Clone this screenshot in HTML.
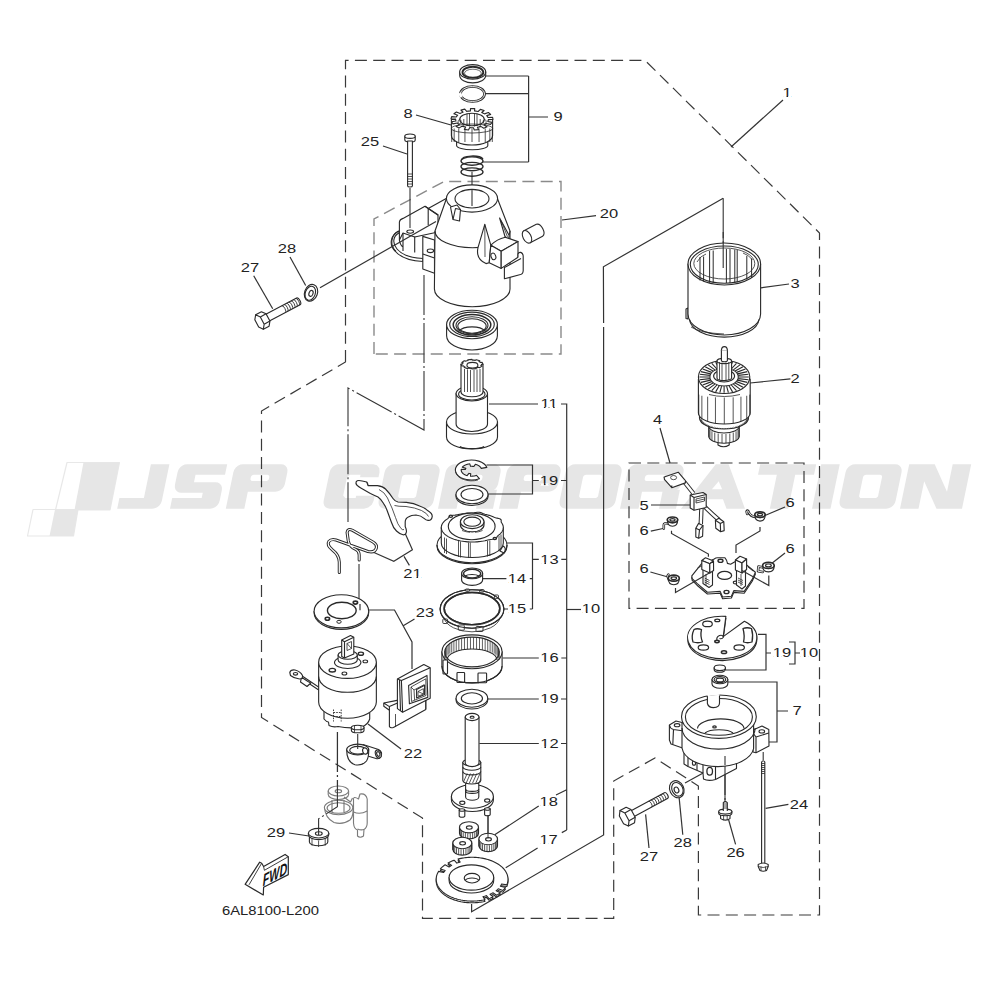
<!DOCTYPE html>
<html><head><meta charset="utf-8"><title>Starter motor parts</title>
<style>
html,body{margin:0;padding:0;background:#fff;}
body{width:1000px;height:1000px;overflow:hidden;}
svg{display:block;}
.t{font-family:"Liberation Sans",sans-serif;font-size:12.7px;fill:#222;text-anchor:middle;dominant-baseline:central;}
.ln{stroke:#333;stroke-width:1.2;fill:none;}
.dl{stroke:#3a3a3a;stroke-width:1.2;fill:none;stroke-dasharray:12 6.3;}
.dl2{stroke:#8a8a8a;stroke-width:1.4;fill:none;stroke-dasharray:12 6.3;}
.cl{stroke:#333;stroke-width:1.1;fill:none;stroke-dasharray:40 3 2 3;}
.p{stroke:#2a2a2a;stroke-width:1.12;fill:#fff;stroke-linejoin:round;}
.pn{stroke:#2a2a2a;stroke-width:1.12;fill:none;stroke-linejoin:round;}
.th{stroke:#2a2a2a;stroke-width:0.8;fill:none;}
.wm{fill:#e6e6e6;font-family:"Liberation Sans",sans-serif;font-weight:bold;font-style:italic;}
</style></head>
<body>
<svg width="1000" height="1000" viewBox="0 0 1000 1000">
<rect width="1000" height="1000" fill="#fff"/>

<!-- WATERMARK -->
<g id="wm">
  <path d="M67,462.5 L119.5,462.5 L110,510 L55.5,510 Z" fill="none" stroke="#e8e8e8" stroke-width="1.2" stroke-linejoin="round"/>
  <path d="M83.5,462.5 L119.5,462.5 L110,510 L74.5,510 Z" fill="#e6e6e6"/>
  <path d="M33,509.5 L78,509.5 L73.5,536 L27.5,536 Z" fill="none" stroke="#e8e8e8" stroke-width="1.2" stroke-linejoin="round"/>
  <path d="M55,509.5 L78,509.5 L73.5,536 L49.5,536 Z" fill="#e6e6e6"/>
<path d="M0.0,33.9 L24.5,33.9 L24.5,0.0 L43.0,0.0 L43.0,36.5 L42.6,39.0 L41.5,41.2 L39.7,43.0 L37.5,44.1 L35.0,44.5 L0.0,44.5 Z" fill="#e6e6e6" fill-rule="evenodd" transform="matrix(1 0 -0.207 1 126.41 464.2)"/>
<path d="M0.0,8.0 L0.4,5.5 L1.5,3.3 L3.3,1.5 L5.5,0.4 L8.0,0.0 L48.0,0.0 L48.0,10.6 L18.5,10.6 L18.5,18.0 L40.0,18.0 L42.5,18.4 L44.7,19.5 L46.5,21.3 L47.6,23.5 L48.0,26.0 L48.0,36.5 L47.6,39.0 L46.5,41.2 L44.7,43.0 L42.5,44.1 L40.0,44.5 L0.0,44.5 L0.0,33.9 L29.5,33.9 L29.5,28.6 L8.0,28.6 L5.5,28.2 L3.3,27.1 L1.5,25.3 L0.4,23.1 L0.0,20.6 Z" fill="#e6e6e6" fill-rule="evenodd" transform="matrix(1 0 -0.207 1 179.21 464.2)"/>
<path d="M0.0,44.5 L0.0,8.0 L0.4,5.5 L1.5,3.3 L3.3,1.5 L5.5,0.4 L8.0,0.0 L46.0,0.0 L48.5,0.4 L50.7,1.5 L52.5,3.3 L53.6,5.5 L54.0,8.0 L54.0,19.5 L53.6,22.0 L52.5,24.2 L50.7,26.0 L48.5,27.1 L46.0,27.5 L18.5,27.5 L18.5,44.5 Z M34.5,10.6 L35.3,10.7 L36.0,11.1 L36.5,11.6 L36.9,12.3 L37.0,13.1 L37.0,14.4 L36.9,15.2 L36.5,15.9 L36.0,16.4 L35.3,16.8 L34.5,16.9 L21.0,16.9 L20.2,16.8 L19.5,16.4 L19.0,15.9 L18.6,15.2 L18.5,14.4 L18.5,13.1 L18.6,12.3 L19.0,11.6 L19.5,11.1 L20.2,10.7 L21.0,10.6 Z" fill="#e6e6e6" fill-rule="evenodd" transform="matrix(1 0 -0.207 1 235.01 464.2)"/>
<path d="M0.0,8.0 L0.4,5.5 L1.5,3.3 L3.3,1.5 L5.5,0.4 L8.0,0.0 L42.0,0.0 L46.0,1.1 L48.9,4.0 L50.0,8.0 L50.0,13.0 L31.5,13.0 L31.5,10.6 L21.0,10.6 L18.5,13.1 L18.5,31.4 L21.0,33.9 L31.5,33.9 L31.5,31.5 L50.0,31.5 L50.0,36.5 L48.9,40.5 L46.0,43.4 L42.0,44.5 L8.0,44.5 L5.5,44.1 L3.3,43.0 L1.5,41.2 L0.4,39.0 L0.0,36.5 Z" fill="#e6e6e6" fill-rule="evenodd" transform="matrix(1 0 -0.207 1 331.21 464.2)"/>
<path d="M47.0,0.0 L49.5,0.4 L51.7,1.5 L53.5,3.3 L54.6,5.5 L55.0,8.0 L55.0,36.5 L54.6,39.0 L53.5,41.2 L51.7,43.0 L49.5,44.1 L47.0,44.5 L8.0,44.5 L5.5,44.1 L3.3,43.0 L1.5,41.2 L0.4,39.0 L0.0,36.5 L0.0,8.0 L0.4,5.5 L1.5,3.3 L3.3,1.5 L5.5,0.4 L8.0,0.0 Z M34.0,10.6 L34.8,10.7 L35.5,11.1 L36.0,11.6 L36.4,12.3 L36.5,13.1 L36.5,31.4 L36.4,32.2 L36.0,32.9 L35.5,33.4 L34.8,33.8 L34.0,33.9 L21.0,33.9 L20.2,33.8 L19.5,33.4 L19.0,32.9 L18.6,32.2 L18.5,31.4 L18.5,13.1 L18.6,12.3 L19.0,11.6 L19.5,11.1 L20.2,10.7 L21.0,10.6 Z" fill="#e6e6e6" fill-rule="evenodd" transform="matrix(1 0 -0.207 1 386.21 464.2)"/>
<path d="M0.0,44.5 L0.0,8.0 L0.4,5.5 L1.5,3.3 L3.3,1.5 L5.5,0.4 L8.0,0.0 L47.0,0.0 L49.5,0.4 L51.7,1.5 L53.5,3.3 L54.6,5.5 L55.0,8.0 L55.0,19.5 L54.6,22.0 L53.5,24.2 L51.7,26.0 L49.5,27.1 L47.0,27.5 L18.5,27.5 L18.5,44.5 Z M35.5,10.6 L36.3,10.7 L37.0,11.1 L37.5,11.6 L37.9,12.3 L38.0,13.1 L38.0,14.4 L37.9,15.2 L37.5,15.9 L37.0,16.4 L36.3,16.8 L35.5,16.9 L21.0,16.9 L20.2,16.8 L19.5,16.4 L19.0,15.9 L18.6,15.2 L18.5,14.4 L18.5,13.1 L18.6,12.3 L19.0,11.6 L19.5,11.1 L20.2,10.7 L21.0,10.6 Z" fill="#e6e6e6" fill-rule="evenodd" transform="matrix(1 0 -0.207 1 447.21 464.2)"/>
<path d="M38.0,25.5 L55.0,25.5 L55.0,44.5 L38.0,44.5 Z" fill="#e6e6e6" fill-rule="evenodd" transform="matrix(1 0 -0.207 1 447.21 464.2)"/>
<path d="M0.0,44.5 L0.0,8.0 L0.4,5.5 L1.5,3.3 L3.3,1.5 L5.5,0.4 L8.0,0.0 L46.0,0.0 L48.5,0.4 L50.7,1.5 L52.5,3.3 L53.6,5.5 L54.0,8.0 L54.0,19.5 L53.6,22.0 L52.5,24.2 L50.7,26.0 L48.5,27.1 L46.0,27.5 L18.5,27.5 L18.5,44.5 Z M34.5,10.6 L35.3,10.7 L36.0,11.1 L36.5,11.6 L36.9,12.3 L37.0,13.1 L37.0,14.4 L36.9,15.2 L36.5,15.9 L36.0,16.4 L35.3,16.8 L34.5,16.9 L21.0,16.9 L20.2,16.8 L19.5,16.4 L19.0,15.9 L18.6,15.2 L18.5,14.4 L18.5,13.1 L18.6,12.3 L19.0,11.6 L19.5,11.1 L20.2,10.7 L21.0,10.6 Z" fill="#e6e6e6" fill-rule="evenodd" transform="matrix(1 0 -0.207 1 508.21 464.2)"/>
<path d="M48.0,0.0 L50.5,0.4 L52.7,1.5 L54.5,3.3 L55.6,5.5 L56.0,8.0 L56.0,36.5 L55.6,39.0 L54.5,41.2 L52.7,43.0 L50.5,44.1 L48.0,44.5 L8.0,44.5 L5.5,44.1 L3.3,43.0 L1.5,41.2 L0.4,39.0 L0.0,36.5 L0.0,8.0 L0.4,5.5 L1.5,3.3 L3.3,1.5 L5.5,0.4 L8.0,0.0 Z M35.0,10.6 L35.8,10.7 L36.5,11.1 L37.0,11.6 L37.4,12.3 L37.5,13.1 L37.5,31.4 L37.4,32.2 L37.0,32.9 L36.5,33.4 L35.8,33.8 L35.0,33.9 L21.0,33.9 L20.2,33.8 L19.5,33.4 L19.0,32.9 L18.6,32.2 L18.5,31.4 L18.5,13.1 L18.6,12.3 L19.0,11.6 L19.5,11.1 L20.2,10.7 L21.0,10.6 Z" fill="#e6e6e6" fill-rule="evenodd" transform="matrix(1 0 -0.207 1 567.21 464.2)"/>
<path d="M0.0,44.5 L0.0,8.0 L0.4,5.5 L1.5,3.3 L3.3,1.5 L5.5,0.4 L8.0,0.0 L48.0,0.0 L50.5,0.4 L52.7,1.5 L54.5,3.3 L55.6,5.5 L56.0,8.0 L56.0,19.5 L55.6,22.0 L54.5,24.2 L52.7,26.0 L50.5,27.1 L48.0,27.5 L18.5,27.5 L18.5,44.5 Z M36.5,10.6 L37.3,10.7 L38.0,11.1 L38.5,11.6 L38.9,12.3 L39.0,13.1 L39.0,14.4 L38.9,15.2 L38.5,15.9 L38.0,16.4 L37.3,16.8 L36.5,16.9 L21.0,16.9 L20.2,16.8 L19.5,16.4 L19.0,15.9 L18.6,15.2 L18.5,14.4 L18.5,13.1 L18.6,12.3 L19.0,11.6 L19.5,11.1 L20.2,10.7 L21.0,10.6 Z" fill="#e6e6e6" fill-rule="evenodd" transform="matrix(1 0 -0.207 1 629.21 464.2)"/>
<path d="M39.0,25.5 L56.0,25.5 L56.0,44.5 L39.0,44.5 Z" fill="#e6e6e6" fill-rule="evenodd" transform="matrix(1 0 -0.207 1 629.21 464.2)"/>
<path d="M0.0,44.5 L25.6,0.0 L38.4,0.0 L64.0,44.5 L45.5,44.5 L40.0,35.0 L24.0,35.0 L18.5,44.5 Z M32.0,17.0 L37.1,25.0 L26.9,25.0 Z" fill="#e6e6e6" fill-rule="evenodd" transform="matrix(1 0 -0.207 1 690.21 464.2)"/>
<path d="M0.0,0.0 L56.0,0.0 L56.0,10.6 L37.2,10.6 L37.2,44.5 L18.8,44.5 L18.8,10.6 L0.0,10.6 Z" fill="#e6e6e6" fill-rule="evenodd" transform="matrix(1 0 -0.207 1 760.21 464.2)"/>
<path d="M0.0,0.0 L18.5,0.0 L18.5,44.5 L0.0,44.5 Z" fill="#e6e6e6" fill-rule="evenodd" transform="matrix(1 0 -0.207 1 821.21 464.2)"/>
<path d="M48.0,0.0 L50.5,0.4 L52.7,1.5 L54.5,3.3 L55.6,5.5 L56.0,8.0 L56.0,36.5 L55.6,39.0 L54.5,41.2 L52.7,43.0 L50.5,44.1 L48.0,44.5 L8.0,44.5 L5.5,44.1 L3.3,43.0 L1.5,41.2 L0.4,39.0 L0.0,36.5 L0.0,8.0 L0.4,5.5 L1.5,3.3 L3.3,1.5 L5.5,0.4 L8.0,0.0 Z M35.0,10.6 L35.8,10.7 L36.5,11.1 L37.0,11.6 L37.4,12.3 L37.5,13.1 L37.5,31.4 L37.4,32.2 L37.0,32.9 L36.5,33.4 L35.8,33.8 L35.0,33.9 L21.0,33.9 L20.2,33.8 L19.5,33.4 L19.0,32.9 L18.6,32.2 L18.5,31.4 L18.5,13.1 L18.6,12.3 L19.0,11.6 L19.5,11.1 L20.2,10.7 L21.0,10.6 Z" fill="#e6e6e6" fill-rule="evenodd" transform="matrix(1 0 -0.207 1 847.21 464.2)"/>
<path d="M0.0,44.5 L0.0,0.0 L25.5,0.0 L43.5,27.5 L43.5,0.0 L62.0,0.0 L62.0,44.5 L36.5,44.5 L18.5,17.0 L18.5,44.5 Z" fill="#e6e6e6" fill-rule="evenodd" transform="matrix(1 0 -0.207 1 909.21 464.2)"/>
</g>

<!-- DASHED BOXES -->
<g id="boxes">
  <path class="dl" d="M345.5,362 L345.5,60.3 L645,60.3 L819.5,233 L819.5,915 L698.4,915 L698.4,786 L655,758 L613.7,781 L613.7,918.4 L422.5,918.4 L422.5,818 L261.5,717.5 L261.5,411 Z"/>
  <path class="dl2" d="M374,354 L374,219 L444,181.5 L561,181.5 L561,354 Z"/>
  <rect class="dl" x="629" y="463" width="175" height="145.4"/>
</g>

<!-- LEADERS -->
<g id="leaders" class="ln">
  <path d="M783,100 L731,147"/>
  <path d="M486,76 H528.6 M484,93.6 H528.6 M483,162 H528.6 M528.6,76 V162 M528.6,117 H548"/>
  <path d="M416,115 L451,125"/>
  <path d="M383,146 L407,154"/>
  <path d="M562,220 L596,215.6"/>
  <path d="M290,257 L305.7,285.5"/>
  <path d="M253.7,275.7 L272.7,308.7"/>

  <path d="M489,404 H538 M561,404 H566.7 V830"/>
  <path d="M486.6,465 H532.5 V494 H487.5 M532.5,480.5 H538.8 M561,480.5 H566.7"/>
  <path d="M504.6,543 H532.5 V609 M532.5,559.4 H538.8 M561.3,559.4 H566.7"/>
  <path d="M482,578.6 H506.4 M529.8,578.6 H532.5"/>
  <path d="M503.7,609 H508 M529.8,609 H532.5"/>
  <path d="M502.8,658 H538.8 M561.3,658 H566.7"/>
  <path d="M566.7,609.5 H581"/>
  <path d="M488,699 H538.8 M561,699 H566.7"/>
  <path d="M479.4,743.5 H538.8 M561,743.5 H566.7"/>
  <path d="M556,795 L566.7,789.7 M538.7,806 L494.7,834.8"/>
  <path d="M561.8,832.6 L566.7,830 M537.6,848 L505.7,867.8"/>
  <path d="M603.6,323 L603.4,266.8 L723.2,198.2"/>
  <path d="M603.6,327 L603.6,835 L471.6,911.8 L471.6,904"/>
  <path d="M761,287.8 L789,284"/>
  <path d="M750,383 L790.4,378.8"/>
  <path d="M660,428 L670,463"/>
  <path d="M651,505 L690,505"/>
  <path d="M785,507 L765,515.5"/>
  <path d="M650.8,531.2 L663,528.5"/>
  <path d="M785,553 L771,564"/>
  <path d="M650.4,572 L668,577"/>
  <path d="M758,634.4 H766 V670 H726 M766,653 H771 M789,642 H795 V664 H789 M795,653 H800"/>
  <path d="M728,682 H777 V742 H769 M777,711 H788"/>
  <path d="M765.6,808.4 L788.4,804.3"/>
  <path d="M728.4,819 L735.6,844.4"/>
  <path d="M679,796.4 L682.8,834.8"/>
  <path d="M645.6,814.4 L649,848"/>
  <path d="M685,783 L706.8,771"/>
  <path d="M289,833 L309,836"/>
  <path d="M368,724 L401,749"/>
  <path d="M369,610 H394.5 L412,642 V669 M414.5,619 L402.8,626"/>
  <path d="M405.2,533.6 L412.4,549.8 L393.8,561.2 L373.4,552.2 M404,556.4 L409.4,565.4"/>
</g>

<!-- CENTER LINES (dash-dot) -->
<g id="clines" class="cl">
  <path d="M723.2,198.2 V267"/>

  <path d="M424,275 V430 L348,388 V522"/>
  <path d="M359,564 V609"/>
  <path d="M337.5,732 V790"/>
  <path d="M725,755 V802"/>
  <path d="M472,172 V205"/>
</g>



<!-- PARTS -->
<g id="parts">
<path class="p" d="M459.7,71.9 L459.7,75.6 A13,7.3 0 0 0 485.7,75.6 L485.7,71.9 Z" />
<ellipse class="p" cx="472.7" cy="71.9" rx="13" ry="7.3" />
<ellipse class="pn" cx="472.9" cy="72.3" rx="10.4" ry="5.6" style="stroke-width:1.9"/>
<ellipse class="pn" cx="472.9" cy="73.2" rx="8.4" ry="4" style="stroke-width:0.7"/>
<ellipse class="pn" cx="472.5" cy="94" rx="12.1" ry="7.5" style="stroke-width:2.6"/>
<ellipse class="pn" cx="472.5" cy="94" rx="12.1" ry="7.5" style="stroke:#fff;stroke-width:0.9"/>
<path class="pn" d="M459.6,93 L461.5,97" style="stroke:#fff;stroke-width:3"/>
<path class="p" d="M456.6,139 L456.6,145.5 A15.6,4.3 0 0 0 487.8,145.5 L487.8,139 Z" />
<ellipse class="p" cx="472.2" cy="139" rx="15.6" ry="4.3" />
<path class="p" d="M451.4,119.5 L451.4,135.5 A20.6,9.5 0 0 0 492.6,135.5 L492.6,119.5 Z" />
<path class="p" d="M488.2,120.56 L487.8,121.51 L492.12,122.39 L490.5,124.41 L486.24,123.47 L485.2,124.29 L483.99,125.04 L487.03,126.85 L483.76,128.25 L480.84,126.39 L479.19,126.87 L477.43,127.25 L478.49,129.57 L474.33,130.03 L473.42,127.69 L471.52,127.72 L469.63,127.64 L468.46,129.95 L464.36,129.36 L465.67,127.07 L463.97,126.64 L462.37,126.11 L459.25,127.88 L456.15,126.38 L459.38,124.67 L458.25,123.88 L457.32,123.03 L452.95,123.85 L451.56,121.78 L455.97,121.04 L455.69,120.07 L455.62,119.1 L451.02,118.78 L451.66,116.61 L456.24,117.01 L456.86,116.08 L457.69,115.2 L453.9,113.82 L456.42,112.06 L460.12,113.5 L461.5,112.83 L463.03,112.25 L460.92,110.12 L464.75,109.16 L466.72,111.33 L468.55,111.07 L470.42,110.92 L470.48,108.53 L474.74,108.59 L474.53,110.98 L476.38,111.18 L478.18,111.5 L480.39,109.4 L484.1,110.47 L481.76,112.53 L483.21,113.16 L484.52,113.87 L488.38,112.54 L490.69,114.38 L486.75,115.64 L487.48,116.54 L487.99,117.48 L492.61,117.23 L493,119.41 L488.37,119.59 Z" />
<ellipse class="p" cx="472" cy="119.5" rx="12.3" ry="6.3" />
<path class="th" d="M463.8,119 V127 M480.2,119 V127 M467,113.5 V126 M469.5,113 V126.5 M474.5,113 V126.5 M477,113.5 V126" />
<path class="th" d="M459.6,119.5 a1.5,2.2 0 1 0 0.1,0 M484.6,119.5 a1.5,2.2 0 1 0 0.1,0" />
<path class="th" d="M451.71,128.5 V142 M454.16,128.5 V142 M458.76,128.5 V142 M464.95,128.5 V142 M472,128.5 V142 M479.05,128.5 V142 M485.24,128.5 V142 M489.84,128.5 V142 M492.29,128.5 V142" />
<ellipse class="th" cx="472" cy="128.5" rx="20.6" ry="4.5" style="fill:none"/>
<path class="pn" d="M461.5,160 A11,4.2 0 0 1 483,159" style="stroke-width:1.35"/>
<ellipse class="pn" cx="472" cy="161" rx="11" ry="4.2" style="stroke-width:1.35"/>
<ellipse class="pn" cx="472" cy="166.5" rx="11" ry="4.2" style="stroke-width:1.35"/>
<ellipse class="pn" cx="472" cy="172" rx="11" ry="4.2" style="stroke-width:1.35"/>
<path class="p" d="M404.8,136.2 L404.8,140 A5.2,2.2 0 0 0 415.2,140 L415.2,136.2 Z" />
<ellipse class="p" cx="410" cy="136.2" rx="5.2" ry="2.2" />
<path class="p" d="M407.6,141 L407.6,186 A2.4,1 0 0 0 412.4,186 L412.4,141 Z" />
<path class="th" d="M407.6,174 H412.4 M407.6,176.5 H412.4 M407.6,179 H412.4 M407.6,181.5 H412.4 M407.6,184 H412.4" />
<path class="p" d="M399,231 C390,235 389,245 395,251 C401,258 412,261 423,261.5 L423,258.5 C412,258 402,255 397,249 C392,243 393,236 399,233 Z" />
<path class="pn" d="M398.5,231 C390,236 390,246 396,251.5" />
<path class="p" d="M399.4,240 L399.4,222 Q399.8,219.5 403,218.4 L425,206.3 L438,214.8 L438,232 L414.7,237 L403,233 Z" />
<path class="pn" d="M425,206.3 L428.2,208.5 L428.2,225 M428.2,208.5 L438.1,215.3" />
<path class="pn" d="M428.2,208.5 L446.2,198.6" />
<path class="pn" d="M403,233 V251 M414.7,236.5 V252.6 M399.4,240 Q400,245 403,247" />
<ellipse class="p" cx="410.2" cy="231.6" rx="3.4" ry="1.6" />
<path class="p" d="M422.8,236.4 L434.5,240 L434.5,273.3 L422.8,269 Z" />
<ellipse class="p" cx="430.4" cy="250.8" rx="3.2" ry="1.8" />
<path class="pn" d="M422.8,254 L434.5,258" />
<path class="p" d="M446.3,199 L435,231 L434.4,289 A37.8,17.7 0 0 0 510,289 L510,231 L497.6,199 Z" />
<path class="pn" d="M435,231 A37,16.5 0 0 0 510,231" />
<ellipse class="p" cx="472" cy="198.5" rx="25.6" ry="13.6" />
<ellipse class="p" cx="472" cy="198.7" rx="17" ry="9.3" />
<path class="p" d="M450.5,207 L453,219.5 L459.5,221 L460.5,209.5 L457,205 Z" />
<path class="pn" d="M453,219.5 L455.5,208.5 L460.5,209.5" />
<path class="p" d="M499.6,218 L509.2,235.6 L508.6,239.5 L505,236.5 Z" />
<path class="th" d="M501,220.5 L507.5,236.8" />
<path class="p" d="M484.8,224.4 L478,247.6 Q475.5,259 486,263.6 L489.2,262.8 L490.8,245.2 Z" />
<path class="th" d="M484.8,224.4 L485,257" />
<path class="p" d="M490.8,245.2 Q497,239 505.2,237.2 L518,241.6 L501.2,251.2 Z" />
<path class="p" d="M490.8,245.2 L501.2,251.2 L501.2,268.4 L489.2,262.8 Z" />
<path class="p" d="M501.2,251.2 L518,241.6 L518,257.2 L501.2,268.4 Z" />
<ellipse class="p" cx="493.4" cy="256.4" rx="2.3" ry="3.4" transform="rotate(-20 493.4 256.4)" />
<path class="p" d="M518,257.2 L518,254 Q518.5,252.2 520.6,252.4 Q523.2,253.2 523.2,256.6 L523.2,270.8 Q523,274.4 519.6,274.8 L504.4,278.8 L504.4,267.6 L521,258.6" />
<path class="p" d="M523.9,230.8 L536.3,224.3 A6.8,4 62.4 0 1 542.6,236.3 L530.2,242.8 Z" />
<ellipse class="p" cx="527" cy="236.8" rx="6.8" ry="4" transform="rotate(62.4 527 236.8)" />
<path class="ln" d="M320,287.7 L436,221.6" />
<path class="cl" d="M410,188 V230" />
<path class="cl" d="M472,190 V206" />
<path class="p" d="M446.6,324.5 L446.6,335.7 A25.4,14.3 0 0 0 497.4,335.7 L497.4,324.5 Z" />
<ellipse class="p" cx="472" cy="324.5" rx="25.4" ry="14.3" />
<ellipse class="pn" cx="472" cy="324.3" rx="22.3" ry="12.2" />
<ellipse class="pn" cx="472" cy="324.8" rx="18.8" ry="10.2" style="stroke-width:1.5"/>
<ellipse class="p" cx="472" cy="325.3" rx="16" ry="8.6" />
<ellipse class="p" cx="472" cy="326" rx="14.2" ry="7.2" />
<path class="pn" d="M459,331 A14,6.5 0 0 1 485,331" />
<path class="p" d="M446.5,422 L446.5,437 A25.5,12 0 0 0 497.5,437 L497.5,422 Z" />
<ellipse class="p" cx="472" cy="422" rx="25.5" ry="12" />
<path class="pn" d="M460,446.5 A13,3.5 0 0 0 484,446.5" />
<path class="p" d="M456.1,393.5 L456.1,424 A15.7,7.5 0 0 0 487.5,424 L487.5,393.5 Z" />
<ellipse class="p" cx="471.8" cy="393.5" rx="15.7" ry="7.5" />
<ellipse class="pn" cx="471.8" cy="394.2" rx="13.2" ry="5.8" />
<path class="p" d="M461,364.2 L461,392 A11,4.8 0 0 0 483,392 L483,364.2 Z" />
<path class="p" d="M481.27,365.02 L480.86,365.64 L482.15,366.05 L479.75,367.61 L478.4,367.24 L477.23,367.64 L475.93,367.96 L476.17,368.64 L471.96,369 L471.59,368.32 L470.12,368.25 L468.69,368.07 L467.75,368.63 L464.19,367.58 L465.03,366.99 L464.12,366.48 L463.39,365.91 L461.82,366.02 L461,364.18 L462.55,364.02 L462.73,363.38 L463.14,362.76 L461.85,362.35 L464.25,360.79 L465.6,361.16 L466.77,360.76 L468.07,360.44 L467.83,359.76 L472.04,359.4 L472.41,360.08 L473.88,360.15 L475.31,360.33 L476.25,359.77 L479.81,360.82 L478.97,361.41 L479.88,361.92 L480.61,362.49 L482.18,362.38 L483,364.22 L481.45,364.38 Z" />
<ellipse class="p" cx="472.4" cy="365.2" rx="5.5" ry="2.8" />
<path class="th" d="M464.5,369 V392 M467.5,369.5 V392 M470.5,369.8 V392 M474,369.8 V392 M477,369.5 V392 M480,369 V392" />
<path class="p" d="M486.85,467.41 A16,10 0 1 0 479.4,478.66 L476.5,475.37 L476.35,475.42 L476.19,475.47 L476.03,475.52 L475.87,475.57 L475.71,475.62 L475.55,475.66 L475.39,475.71 L475.22,475.75 L475.06,475.79 L474.89,475.83 L474.72,475.86 L474.55,475.9 L474.38,475.93 L474.21,475.96 L474.04,475.99 L473.87,476.02 L473.69,476.04 L473.52,476.06 L473.35,476.09 L473.17,476.11 L473,476.12 L472.82,476.14 L472.64,476.15 L472.47,476.17 L472.29,476.18 L472.11,476.18 L471.93,476.19 L471.76,476.2 L471.58,476.2 L471.4,476.2 L471.22,476.2 L471.04,476.2 L470.87,476.19 L470.69,476.18 L470.51,476.18 L470.76,473.7 L470.65,473.69 L470.55,473.68 L470.44,473.67 L470.34,473.66 L470.23,473.65 L470.13,473.64 L470.02,473.62 L469.92,473.61 L469.82,473.59 L469.71,473.58 L469.61,473.56 L469.51,473.54 L469.41,473.52 L469.31,473.5 L469.21,473.47 L469.11,473.45 L469.01,473.42 L468.91,473.4 L467.09,475.62 L466.93,475.57 L466.77,475.52 L466.61,475.47 L466.45,475.42 L466.3,475.37 L466.15,475.31 L465.99,475.26 L465.84,475.2 L465.7,475.14 L465.55,475.08 L465.4,475.02 L465.26,474.95 L465.12,474.89 L464.98,474.82 L464.84,474.75 L464.71,474.68 L464.57,474.61 L464.44,474.53 L464.31,474.46 L464.19,474.38 L464.06,474.31 L463.94,474.23 L463.82,474.15 L463.7,474.07 L463.59,473.99 L463.47,473.9 L463.36,473.82 L463.25,473.73 L463.15,473.64 L463.04,473.56 L462.94,473.47 L462.85,473.38 L462.75,473.29 L462.66,473.19 L462.57,473.1 L462.48,473.01 L462.39,472.91 L462.31,472.81 L462.23,472.72 L462.16,472.62 L462.08,472.52 L462.01,472.42 L461.94,472.32 L461.88,472.22 L461.82,472.12 L461.76,472.02 L461.7,471.92 L461.65,471.81 L461.6,471.71 L461.55,471.6 L461.5,471.5 L461.46,471.39 L461.42,471.29 L461.39,471.18 L461.35,471.08 L461.33,470.97 L461.3,470.86 L461.28,470.76 L461.26,470.65 L461.24,470.54 L461.22,470.43 L461.21,470.32 L461.21,470.22 L461.2,470.11 L461.2,470 L461.2,469.89 L461.21,469.78 L461.21,469.68 L461.22,469.57 L461.24,469.46 L461.26,469.35 L461.28,469.24 L465.34,469.48 L465.36,469.42 L465.37,469.35 L465.39,469.29 L465.41,469.23 L465.44,469.16 L465.46,469.1 L465.49,469.04 L465.52,468.97 L465.55,468.91 L465.58,468.85 L465.61,468.79 L465.65,468.73 L465.69,468.67 L465.73,468.61 L465.77,468.55 L465.81,468.49 L465.85,468.43 L465.9,468.37 L462.31,467.19 L462.39,467.09 L462.48,466.99 L462.57,466.9 L462.66,466.81 L462.75,466.71 L462.85,466.62 L462.94,466.53 L463.04,466.44 L463.15,466.36 L463.25,466.27 L463.36,466.18 L463.47,466.1 L463.59,466.01 L463.7,465.93 L463.82,465.85 L463.94,465.77 L464.06,465.69 L464.19,465.62 L464.31,465.54 L464.44,465.47 L464.57,465.39 L464.71,465.32 L464.84,465.25 L464.98,465.18 L465.12,465.11 L465.26,465.05 L465.4,464.98 L465.55,464.92 L465.7,464.86 L465.84,464.8 L465.99,464.74 L466.15,464.69 L466.3,464.63 L466.45,464.58 L466.61,464.53 L466.77,464.48 L466.93,464.43 L467.09,464.38 L467.25,464.34 L467.41,464.29 L467.58,464.25 L467.74,464.21 L467.91,464.17 L468.08,464.14 L468.25,464.1 L468.42,464.07 L468.59,464.04 L468.76,464.01 L468.93,463.98 L469.11,463.96 L469.28,463.94 L469.45,463.91 L469.63,463.89 L469.8,463.88 L470.55,466.32 L470.65,466.31 L470.76,466.3 L470.87,466.29 L470.97,466.29 L471.08,466.29 L471.19,466.28 L471.29,466.28 L471.4,466.28 L471.51,466.28 L471.61,466.28 L471.72,466.29 L471.83,466.29 L471.93,466.29 L472.04,466.3 L472.15,466.31 L472.25,466.32 L472.36,466.33 L472.46,466.34 L472.57,466.35 L472.67,466.36 L472.78,466.38 L472.88,466.39 L472.98,466.41 L473.09,466.42 L473.19,466.44 L473.29,466.46 L473.39,466.48 L473.49,466.5 L473.59,466.53 L473.69,466.55 L475.39,464.29 L475.55,464.34 L475.71,464.38 L475.87,464.43 L476.03,464.48 L476.19,464.53 L476.35,464.58 L476.5,464.63 L476.65,464.69 L476.81,464.74 L476.96,464.8 L477.1,464.86 L477.25,464.92 L477.4,464.98 L477.54,465.05 L477.68,465.11 L477.82,465.18 L477.96,465.25 L478.09,465.32 L478.23,465.39 L478.36,465.47 L478.49,465.54 L478.61,465.62 L478.74,465.69 L478.86,465.77 L478.98,465.85 L479.1,465.93 L479.21,466.01 L479.33,466.1 L479.44,466.18 L479.55,466.27 L479.65,466.36 L479.76,466.44 L479.86,466.53 L479.95,466.62 L480.05,466.71 L480.14,466.81 L480.23,466.9 L480.32,466.99 L480.41,467.09 L480.49,467.19 L480.57,467.28 L480.64,467.38 L480.72,467.48 L480.79,467.58 L480.86,467.68 L480.92,467.78 L480.98,467.88 L481.04,467.98 L481.1,468.08 L481.15,468.19 L481.2,468.29 L481.25,468.4 Z" />
<path class="pn" d="M455.6,472 A16,10 0 0 0 478,480" style="stroke-width:0.8"/>
<path class="p" d="M456,494.5 L456,496.3 A16,9.2 0 0 0 488,496.3 L488,494.5 Z" />
<ellipse class="p" cx="472" cy="494.5" rx="16" ry="9.2" />
<ellipse class="p" cx="472" cy="494.5" rx="11" ry="6" />
<path class="p" d="M437,545 A35,17.8 0 0 1 507,545 L507,546 A35,17.8 0 0 1 437,546 Z" />
<path class="pn" d="M437,545 A35,17.8 0 0 0 507,545" />
<path class="p" d="M441.3,527.5 L441.3,543 A31,14.5 0 0 0 503.3,543 L503.3,527.5 Z" />
<path class="p" d="M503.3,527.5 L503.26,528.26 L503.13,529.02 L502.92,529.77 L502.62,530.51 L502.24,531.25 L501.78,531.98 L501.24,532.7 L500.62,533.4 L499.92,534.08 L499.15,534.75 L498.3,535.4 L497.51,536.07 L497.06,536.88 L496.63,537.75 L495.84,538.51 L494.49,539.03 L492.73,539.3 L490.86,539.45 L489.21,539.68 L487.8,540.06 L486.37,540.42 L484.91,540.75 L483.41,541.04 L481.88,541.29 L480.32,541.51 L478.75,541.68 L477.15,541.82 L475.54,541.92 L473.92,541.98 L472.3,542 L470.68,541.98 L469.06,541.92 L467.45,541.82 L465.85,541.68 L464.28,541.51 L462.72,541.29 L461.19,541.04 L459.69,540.75 L458.23,540.42 L456.8,540.06 L455.42,539.66 L454.08,539.23 L452.79,538.77 L451.56,538.28 L450.38,537.75 L449.26,537.2 L448.21,536.63 L447.22,536.02 L446.3,535.4 L445.45,534.75 L444.68,534.08 L443.98,533.4 L443.36,532.7 L442.82,531.98 L442.36,531.25 L441.98,530.51 L441.68,529.77 L441.47,529.02 L441.34,528.26 L441.3,527.5 L441.34,526.74 L441.47,525.98 L441.68,525.23 L441.98,524.49 L442.36,523.75 L442.82,523.02 L443.36,522.3 L443.98,521.6 L444.68,520.92 L445.45,520.25 L446.3,519.6 L447.22,518.98 L448.09,518.33 L448.62,517.53 L449.15,516.67 L450.03,515.93 L451.43,515.44 L453.22,515.22 L455.1,515.11 L456.78,514.93 L458.23,514.58 L459.69,514.25 L461.19,513.96 L462.72,513.71 L464.28,513.49 L465.85,513.32 L467.45,513.18 L469.06,513.08 L470.68,513.02 L472.3,513 L473.94,512.86 L475.66,512.54 L477.46,512.26 L479.23,512.25 L480.84,512.6 L482.24,513.19 L483.53,513.81 L484.91,514.25 L486.37,514.58 L487.8,514.94 L489.18,515.34 L490.52,515.77 L491.81,516.23 L493.04,516.72 L494.22,517.25 L495.45,517.75 L497.06,518.12 L498.79,518.5 L500.22,519.02 L501.03,519.74 L501.23,520.61 L501.15,521.49 L501.28,522.3 L501.78,523.02 L502.24,523.75 L502.62,524.49 L502.92,525.23 L503.13,525.98 L503.26,526.74 Z" />
<ellipse class="p" cx="471.7" cy="526.4" rx="23.4" ry="13.3" />
<ellipse class="p" cx="450.8" cy="516.2" rx="1.7" ry="1.1" style="stroke-width:1.3"/>
<ellipse class="p" cx="494.8" cy="538.4" rx="1.7" ry="1.1" style="stroke-width:1.3"/>
<path class="p" d="M460.4,521.7 L460.4,525 A11.8,6.9 0 0 0 484,525 L484,521.7 Z" />
<ellipse class="p" cx="472.2" cy="521.7" rx="11.8" ry="6.9" />
<ellipse class="p" cx="472.2" cy="521.7" rx="8.4" ry="4.6" />
<path class="th" d="M462,530.5 Q466,532 470,532.3 M475,532.3 Q479,532 482.5,530.5" />
<path class="th" d="M444.5,537.5 V553 M446.5,538.5 V554 M458.5,541 V557 M460.5,541.5 V557.5 M468.5,542.5 V558 M470.3,542.5 V558 M487.5,541 V556.5 M489.8,540.5 V556 M499,536 V551 M501,534.5 V549.5" />
<path class="p" d="M503,546 Q507,548 504,553 L500,551 Z" />
<path class="p" d="M461.6,573.4 L461.6,580 A10.5,5.4 0 0 0 482.6,580 L482.6,573.4 Z" />
<ellipse class="p" cx="472.1" cy="573.4" rx="10.5" ry="5.4" />
<ellipse class="pn" cx="472.1" cy="573.6" rx="8.6" ry="4.3" style="stroke-width:1.5"/>
<path class="pn" d="M465,576 A8,3 0 0 1 479,576" />
<ellipse class="p" cx="472" cy="609" rx="31.9" ry="19.2" style="stroke-width:1.1"/>
<ellipse class="pn" cx="472" cy="608.6" rx="28.4" ry="16.6" style="stroke-width:0.9"/>
<ellipse class="pn" cx="472" cy="608.6" rx="27.6" ry="15.9" style="stroke-width:1.2"/>
<rect class="p" x="458.3" y="625" width="6" height="5.2" rx="0.8" style="stroke-width:0.9"/>
<rect class="p" x="476" y="626.5" width="7" height="5" rx="0.8" style="stroke-width:0.9"/>
<rect class="p" x="442.8" y="619" width="4.8" height="4.5" rx="0.8" style="stroke-width:0.9"/>
<rect class="p" x="465.5" y="589" width="4" height="2.4" rx="0.8" style="stroke-width:0.9"/>
<rect class="p" x="479.5" y="589.5" width="4.5" height="2.6" rx="0.8" style="stroke-width:0.9"/>
<rect class="p" x="494.5" y="595" width="4" height="3.4" rx="0.8" style="stroke-width:0.9"/>
<ellipse class="pn" cx="472" cy="609" rx="31.9" ry="19.2" style="stroke-width:1.1"/>
<ellipse class="pn" cx="472" cy="608.6" rx="27.6" ry="15.9" style="stroke-width:1.2"/>
<path class="th" d="M444,618 A28.4,16.6 0 0 0 500,618" />
<path class="p" d="M441.9,651.8 L441.9,666 A30.1,16.9 0 0 0 502.1,666 L502.1,651.8 Z" />
<ellipse class="p" cx="472" cy="651.8" rx="30.1" ry="16.9" />
<ellipse class="p" cx="472" cy="652" rx="27.2" ry="14.9" />
<path class="pn" d="M447,660 A25,11 0 0 1 497,660" />
<path class="th" d="M444.84,651.16 L444.84,659.38 M445.18,649.5 L445.18,658.16 M445.86,647.88 L445.86,656.95 M446.87,646.3 L446.87,655.79 M448.19,644.79 L448.19,654.68 M449.82,643.38 L449.82,653.63 M451.72,642.07 L451.72,652.67 M453.88,640.89 L453.88,651.8 M456.26,639.85 L456.26,651.03 M458.84,638.96 L458.84,650.37 M461.59,638.23 L461.59,649.84 M464.47,637.68 L464.47,649.43 M467.44,637.31 L467.44,649.16 M470.47,637.12 L470.47,649.02 M473.53,637.12 L473.53,649.02 M476.56,637.31 L476.56,649.16 M479.53,637.68 L479.53,649.43 M482.41,638.23 L482.41,649.84 M485.16,638.96 L485.16,650.37 M487.74,639.85 L487.74,651.03 M490.12,640.89 L490.12,651.8 M492.28,642.07 L492.28,652.67 M494.18,643.38 L494.18,653.63 M495.81,644.79 L495.81,654.68 M497.13,646.3 L497.13,655.79 M498.14,647.88 L498.14,656.95 M498.82,649.5 L498.82,658.16 M499.16,651.16 L499.16,659.38" style="stroke-width:0.75"/>
<rect class="p" x="457" y="672.5" width="7.6" height="10" rx="0.8"/>
<rect class="p" x="478" y="673" width="8.6" height="9.8" rx="0.8"/>
<rect class="p" x="443" y="660" width="4.5" height="14" rx="0.8"/>
<path class="pn" d="M441.9,666 A30.1,16.9 0 0 0 502.1,666" />
<path class="p" d="M456.1,698.2 L456.1,700 A15.8,9 0 0 0 487.7,700 L487.7,698.2 Z" />
<ellipse class="p" cx="471.9" cy="698.2" rx="15.8" ry="9" />
<ellipse class="p" cx="471.9" cy="698.4" rx="10.6" ry="5.6" />
<path class="p" d="M451.4,796.5 L451.4,799.8 A21,11.7 0 0 0 493.4,799.8 L493.4,796.5 Z" />
<ellipse class="p" cx="472.4" cy="796.5" rx="21" ry="11.7" />
<ellipse class="p" cx="462.3" cy="802.8" rx="2.6" ry="1.7" />
<ellipse class="p" cx="487.2" cy="800.6" rx="2.6" ry="1.7" />
<path class="p" d="M459.2,810 L459.2,816 A2.8,1.2 0 0 0 464.8,816 L464.8,810 Z" />
<ellipse class="p" cx="462" cy="810" rx="2.8" ry="1.2" />
<path class="p" d="M484.6,809 L484.6,814.5 A2.8,1.2 0 0 0 490.2,814.5 L490.2,809 Z" />
<ellipse class="p" cx="487.4" cy="809" rx="2.8" ry="1.2" />
<path class="p" d="M465.6,783.5 L465.6,797 A6.6,3.2 0 0 0 478.8,797 L478.8,783.5 Z" />
<path class="pn" d="M465.6,789 A6.6,2.4 0 0 0 478.8,789 M465.6,791 A6.6,2.4 0 0 0 478.8,791" />
<path class="p" d="M462.8,762.5 L462.8,780.5 A9,3.5 0 0 0 480.8,780.5 L480.8,762.5 Z" />
<ellipse class="p" cx="471.8" cy="762.5" rx="9" ry="3.5" />
<path class="pn" d="M462.8,767 A9,3.3 0 0 0 480.8,767 M462.8,771.6 A9,3.3 0 0 0 480.8,771.6" />
<path class="th" d="M463,783 L467.2,773.5 M466.2,783 L470.4,773.5 M469.4,783 L473.6,773.5 M472.6,783 L476.8,773.5 M475.8,783 L480,773.5 M479,783 L483.2,773.5 M482.2,783 L486.4,773.5" clip-path="url(#cg12)"/>
<clipPath id="cg12"><path d="M462.8,772 L480.8,772 L480.8,780.5 A9,3.3 0 0 1 462.8,780.5 Z"/></clipPath>
<path class="p" d="M465.2,717 L465.2,763 A6.9,3.6 0 0 0 479,763 L479,717 Z" />
<ellipse class="p" cx="472.1" cy="717" rx="6.9" ry="3.6" />
<ellipse class="p" cx="472.1" cy="717.2" rx="2" ry="1.1" />
<path class="p" d="M459.5,827.3 L459.5,833.3 A9.5,5.6 0 0 0 478.5,833.3 L478.5,827.3 Z" />
<ellipse class="p" cx="469" cy="827.3" rx="9.5" ry="5.6" />
<path class="th" d="M459.58,828.53 V834.03 M460.22,829.94 V835.44 M461.46,831.21 V836.71 M463.22,832.24 V837.74 M465.36,832.97 V838.47 M467.76,833.35 V838.85 M470.24,833.35 V838.85 M472.64,832.97 V838.47 M474.78,832.24 V837.74 M476.54,831.21 V836.71 M477.78,829.94 V835.44 M478.42,828.53 V834.03" />
<ellipse class="p" cx="469.3" cy="827.6" rx="2.9" ry="1.7" />
<path class="p" d="M452.8,843 L452.8,849.3 A9.5,5.8 0 0 0 471.8,849.3 L471.8,843 Z" />
<ellipse class="p" cx="462.3" cy="843" rx="9.5" ry="5.8" />
<path class="th" d="M452.88,844.26 V850.06 M453.52,845.72 V851.52 M454.76,847.03 V852.83 M456.52,848.1 V853.9 M458.66,848.86 V854.66 M461.06,849.25 V855.05 M463.54,849.25 V855.05 M465.94,848.86 V854.66 M468.08,848.1 V853.9 M469.84,847.03 V852.83 M471.08,845.72 V851.52 M471.72,844.26 V850.06" />
<ellipse class="p" cx="462.6" cy="843.3" rx="2.9" ry="1.7" />
<path class="cl" d="M488,815 V838" />
<path class="p" d="M478.9,839 L478.9,845.8 A9.3,5.8 0 0 0 497.5,845.8 L497.5,839 Z" />
<ellipse class="p" cx="488.2" cy="839" rx="9.3" ry="5.8" />
<path class="th" d="M478.98,840.26 V846.56 M479.61,841.72 V848.02 M480.82,843.03 V849.33 M482.54,844.1 V850.4 M484.64,844.86 V851.16 M486.99,845.25 V851.55 M489.41,845.25 V851.55 M491.76,844.86 V851.16 M493.86,844.1 V850.4 M495.58,843.03 V849.33 M496.79,841.72 V848.02 M497.42,840.26 V846.56" />
<ellipse class="p" cx="488.5" cy="839.3" rx="2.9" ry="1.7" />
<path class="pn" d="M488,815 V838.4" style="stroke-width:0.9"/>
<path class="p" d="M508,879.2 L507.98,879.96 L507.91,880.73 L507.8,881.49 L507.65,882.25 L507.45,883 L507.22,883.75 L506.93,884.5 L506.78,884.87 L501.58,884.02 L501.43,884.33 L501.12,884.95 L500.77,885.57 L500.39,886.17 L505.39,887.4 L504.9,888.11 L504.37,888.8 L503.8,889.48 L503.19,890.15 L502.87,890.48 L498.26,888.79 L497.98,889.06 L497.4,889.61 L496.79,890.14 L496.15,890.66 L500.39,892.68 L499.6,893.28 L498.78,893.85 L497.92,894.41 L497.04,894.95 L496.58,895.22 L492.91,892.81 L492.52,893.03 L491.71,893.46 L490.89,893.87 L490.04,894.26 L493.2,896.92 L492.18,897.36 L491.12,897.77 L490.05,898.17 L488.95,898.54 L486.43,895.64 L485.48,895.93 L484.51,896.21 L483.53,896.46 L483.04,896.58 L484.97,899.65 L484.38,899.78 L483.19,900.03 L482,900.25 L480.78,900.45 L479.56,900.62 L478.33,900.77 L477.1,900.89 L475.85,900.98 L474.6,901.05 L473.35,901.09 L472.1,901.1 L470.85,901.09 L469.6,901.05 L468.35,900.98 L467.1,900.89 L465.87,900.77 L464.64,900.62 L463.42,900.45 L462.2,900.25 L461.01,900.03 L459.82,899.78 L458.65,899.51 L457.5,899.21 L456.36,898.88 L455.25,898.54 L454.15,898.17 L453.08,897.77 L452.02,897.36 L451,896.92 L450,896.46 L449.02,895.98 L448.08,895.47 L447.16,894.95 L446.28,894.41 L445.42,893.85 L444.6,893.28 L443.81,892.68 L443.06,892.07 L442.34,891.45 L441.66,890.81 L441.01,890.15 L440.4,889.48 L439.83,888.8 L439.3,888.11 L438.81,887.4 L438.37,886.69 L437.96,885.97 L437.59,885.24 L437.27,884.5 L436.98,883.75 L436.75,883 L436.55,882.25 L436.4,881.49 L436.29,880.73 L436.22,879.96 L436.2,879.2 L436.22,878.44 L436.29,877.67 L436.4,876.91 L436.55,876.15 L436.75,875.4 L436.98,874.65 L437.27,873.9 L437.59,873.16 L437.96,872.43 L438.37,871.71 L438.58,871.35 L443.61,872.53 L443.81,872.23 L444.22,871.63 L444.67,871.04 L445.16,870.46 L440.4,868.92 L441.01,868.25 L441.66,867.59 L442.34,866.95 L443.06,866.33 L443.81,865.72 L444.6,865.12 L445.01,864.83 L449.07,866.99 L449.42,866.74 L450.15,866.27 L450.9,865.81 L451.68,865.37 L448.08,862.93 L449.02,862.42 L450,861.94 L451,861.48 L452.02,861.04 L453.08,860.63 L454.15,860.23 L456.84,863.08 L457.77,862.76 L458.72,862.47 L459.69,862.19 L460.18,862.06 L458.07,859.04 L458.65,858.89 L459.82,858.62 L461.01,858.37 L462.2,858.15 L463.42,857.95 L464.64,857.78 L465.87,857.63 L467.1,857.51 L468.35,857.42 L469.6,857.35 L470.85,857.31 L472.1,857.3 L473.35,857.31 L474.6,857.35 L475.85,857.42 L477.1,857.51 L478.33,857.63 L479.56,857.78 L480.78,857.95 L482,858.15 L483.19,858.37 L484.38,858.62 L485.55,858.89 L486.7,859.19 L487.84,859.52 L488.95,859.86 L490.05,860.23 L491.12,860.63 L492.18,861.04 L493.2,861.48 L494.2,861.94 L495.18,862.42 L496.12,862.93 L497.04,863.45 L497.92,863.99 L498.78,864.55 L499.6,865.12 L500.39,865.72 L501.14,866.33 L501.86,866.95 L502.54,867.59 L503.19,868.25 L503.8,868.92 L504.37,869.6 L504.9,870.29 L505.39,871 L505.83,871.71 L506.24,872.43 L506.61,873.16 L506.93,873.9 L507.22,874.65 L507.45,875.4 L507.65,876.15 L507.8,876.91 L507.91,877.67 L507.98,878.44 Z" transform="translate(0,1.7)"/>
<path class="p" d="M508,879.2 L507.98,879.96 L507.91,880.73 L507.8,881.49 L507.65,882.25 L507.45,883 L507.22,883.75 L506.93,884.5 L506.78,884.87 L501.58,884.02 L501.43,884.33 L501.12,884.95 L500.77,885.57 L500.39,886.17 L505.39,887.4 L504.9,888.11 L504.37,888.8 L503.8,889.48 L503.19,890.15 L502.87,890.48 L498.26,888.79 L497.98,889.06 L497.4,889.61 L496.79,890.14 L496.15,890.66 L500.39,892.68 L499.6,893.28 L498.78,893.85 L497.92,894.41 L497.04,894.95 L496.58,895.22 L492.91,892.81 L492.52,893.03 L491.71,893.46 L490.89,893.87 L490.04,894.26 L493.2,896.92 L492.18,897.36 L491.12,897.77 L490.05,898.17 L488.95,898.54 L486.43,895.64 L485.48,895.93 L484.51,896.21 L483.53,896.46 L483.04,896.58 L484.97,899.65 L484.38,899.78 L483.19,900.03 L482,900.25 L480.78,900.45 L479.56,900.62 L478.33,900.77 L477.1,900.89 L475.85,900.98 L474.6,901.05 L473.35,901.09 L472.1,901.1 L470.85,901.09 L469.6,901.05 L468.35,900.98 L467.1,900.89 L465.87,900.77 L464.64,900.62 L463.42,900.45 L462.2,900.25 L461.01,900.03 L459.82,899.78 L458.65,899.51 L457.5,899.21 L456.36,898.88 L455.25,898.54 L454.15,898.17 L453.08,897.77 L452.02,897.36 L451,896.92 L450,896.46 L449.02,895.98 L448.08,895.47 L447.16,894.95 L446.28,894.41 L445.42,893.85 L444.6,893.28 L443.81,892.68 L443.06,892.07 L442.34,891.45 L441.66,890.81 L441.01,890.15 L440.4,889.48 L439.83,888.8 L439.3,888.11 L438.81,887.4 L438.37,886.69 L437.96,885.97 L437.59,885.24 L437.27,884.5 L436.98,883.75 L436.75,883 L436.55,882.25 L436.4,881.49 L436.29,880.73 L436.22,879.96 L436.2,879.2 L436.22,878.44 L436.29,877.67 L436.4,876.91 L436.55,876.15 L436.75,875.4 L436.98,874.65 L437.27,873.9 L437.59,873.16 L437.96,872.43 L438.37,871.71 L438.58,871.35 L443.61,872.53 L443.81,872.23 L444.22,871.63 L444.67,871.04 L445.16,870.46 L440.4,868.92 L441.01,868.25 L441.66,867.59 L442.34,866.95 L443.06,866.33 L443.81,865.72 L444.6,865.12 L445.01,864.83 L449.07,866.99 L449.42,866.74 L450.15,866.27 L450.9,865.81 L451.68,865.37 L448.08,862.93 L449.02,862.42 L450,861.94 L451,861.48 L452.02,861.04 L453.08,860.63 L454.15,860.23 L456.84,863.08 L457.77,862.76 L458.72,862.47 L459.69,862.19 L460.18,862.06 L458.07,859.04 L458.65,858.89 L459.82,858.62 L461.01,858.37 L462.2,858.15 L463.42,857.95 L464.64,857.78 L465.87,857.63 L467.1,857.51 L468.35,857.42 L469.6,857.35 L470.85,857.31 L472.1,857.3 L473.35,857.31 L474.6,857.35 L475.85,857.42 L477.1,857.51 L478.33,857.63 L479.56,857.78 L480.78,857.95 L482,858.15 L483.19,858.37 L484.38,858.62 L485.55,858.89 L486.7,859.19 L487.84,859.52 L488.95,859.86 L490.05,860.23 L491.12,860.63 L492.18,861.04 L493.2,861.48 L494.2,861.94 L495.18,862.42 L496.12,862.93 L497.04,863.45 L497.92,863.99 L498.78,864.55 L499.6,865.12 L500.39,865.72 L501.14,866.33 L501.86,866.95 L502.54,867.59 L503.19,868.25 L503.8,868.92 L504.37,869.6 L504.9,870.29 L505.39,871 L505.83,871.71 L506.24,872.43 L506.61,873.16 L506.93,873.9 L507.22,874.65 L507.45,875.4 L507.65,876.15 L507.8,876.91 L507.91,877.67 L507.98,878.44 Z"/>
<path class="p" d="M449.1,877.5 L449.1,880.4 A22.3,12.6 0 0 0 493.7,880.4 L493.7,877.5 Z" />
<ellipse class="p" cx="471.4" cy="877.5" rx="22.3" ry="12.6" />
<ellipse class="p" cx="472" cy="878.2" rx="7.8" ry="4.8" />
<path class="pn" d="M465,880.5 A7.5,3.8 0 0 1 479,880.5" />
<path class="p" d="M357.2,480.8 Q359,479.8 366.8,482 L368,485.6 L377.6,485.6 Q383,486.5 385.5,489 Q389.5,493 393.2,498.8 Q395,501.5 398,502 L406.4,502.4 Q414,503 419.6,506 Q425,508 428,510.8 Q432.5,513.5 432.2,516.6 Q431.5,520.8 428,520.4 Q426,520.2 424.4,518.6 Q421,515.5 416,515 Q411,515.2 408.8,516.8 Q405.2,518.5 405.2,522 L405.2,526.4 Q406.8,530 406.4,532 Q405.8,535.2 403,534.8 Q399.6,534 396.5,531 Q393,527.5 391.5,522.5 L387.2,510.8 Q385.5,506 383.6,503.6 Q381.5,499.5 378,497 Q375,495.5 370.4,493.4 L360.8,488 Q356.5,485.5 356,483.5 Q355.8,481.5 357.2,480.8 Z" style="stroke-width:1.15"/>
<path class="th" d="M379,489.5 Q384.5,492 387.5,498 Q390,504 392,508 L395.5,517.5 Q397.5,524.5 401,528.5 Q403,530.5 404,529.5" />
<path class="th" d="M394.5,505.5 Q398,506.5 406,506.5 Q415,507.5 421.5,510.5 Q427.5,513.5 428.5,516.5" />
<path class="th" d="M366.8,482 Q367.5,484 368.5,484.2" />
<path class="pn" d="M339.3,572.5 L339.3,562 Q339,555 332.5,550 Q326.5,545 328.8,541.5 Q331.2,538.6 336,540 L368,551.5 Q375,553.2 376.5,547.5 Q377,544.5 373,542 L352.5,530.3 Q347.5,528 347.1,532.5 L348.3,541 Q349.5,547 355.5,549.2 Q359.2,551 359.2,555 L359.2,560" style="stroke:#2a2a2a;stroke-width:3.1;stroke-linecap:round"/>
<path class="pn" d="M339.3,572.5 L339.3,562 Q339,555 332.5,550 Q326.5,545 328.8,541.5 Q331.2,538.6 336,540 L368,551.5 Q375,553.2 376.5,547.5 Q377,544.5 373,542 L352.5,530.3 Q347.5,528 347.1,532.5 L348.3,541 Q349.5,547 355.5,549.2 Q359.2,551 359.2,555 L359.2,560" style="stroke:#fff;stroke-width:1.2;stroke-linecap:round"/>
<path class="p" d="M314.1,611.3 L314.1,612.8 A27.3,16.6 0 0 0 368.7,612.8 L368.7,611.3 Z" />
<ellipse class="p" cx="341.4" cy="611.3" rx="27.3" ry="16.6" />
<ellipse class="p" cx="341.8" cy="610.5" rx="14.35" ry="8.2" style="stroke-width:1.4"/>
<ellipse class="p" cx="355.4" cy="602.6" rx="2.2" ry="1.5" style="stroke-width:1.6"/>
<ellipse class="p" cx="327.4" cy="618.7" rx="2.2" ry="1.5" style="stroke-width:1.6"/>
<ellipse class="p" cx="339" cy="621.8" rx="2.2" ry="1.5" style="stroke-width:1.0"/>
<path class="ln" d="M360,604 V610.3" />
<path class="pn" d="M300,676 L318.6,688.5" style="stroke:#2a2a2a;stroke-width:3.4;stroke-linecap:round"/>
<path class="pn" d="M300,676 L318.6,688.5" style="stroke:#fff;stroke-width:1.4;stroke-linecap:round"/>
<path class="p" d="M301.5,677.2 L308,681.5 L310.8,683 L307,686.5 L300.5,682 Z" />
<path class="p" d="M289.8,672.5 Q290.5,669.5 295,670 Q300.5,671.5 302.5,675.5 Q303,679 299.5,679 Q294,678.5 290.5,675.5 Z" />
<ellipse class="p" cx="295.5" cy="673.8" rx="2.2" ry="1.3" />
<path class="p" d="M324,705 L324,719 Q326.5,722 328.5,722 L329,725.5 Q333,727.5 338,726.5 Q350,729 362,727 Q368,724.5 369.7,719 L369.7,705 Z" />
<path class="p" d="M351.4,727.5 L351.4,730.5 A6.3,2.3 0 0 0 364,730.5 L364,727.5 Z" />
<ellipse class="p" cx="357.7" cy="727.5" rx="6.3" ry="2.3" />
<path class="th" d="M354.5,726 V732 M361,726 V732" />
<path class="p" d="M318.65,662.2 L318.65,702 A28.85,16.2 0 0 0 376.35,702 L376.35,662.2 Z" />
<ellipse class="p" cx="347.5" cy="662.2" rx="28.85" ry="16.2" />
<path class="pn" d="M333.5,709.5 V721.5 M341.2,709.5 V721.5 M333.5,712.5 H341.2 M333.5,716.5 H341.2" style="stroke-width:0.9;stroke-dasharray:1.6 1.1"/>
<path class="pn" d="M318.6,676.5 A28.85,15.8 0 0 0 376.35,676.5" />
<ellipse class="p" cx="347.7" cy="662.5" rx="13.2" ry="6" />
<path class="p" d="M338.1,655 L338.1,660 A9.6,4.3 0 0 0 357.3,660 L357.3,655 Z" />
<ellipse class="p" cx="347.7" cy="655" rx="9.6" ry="4.3" />
<ellipse class="p" cx="332.3" cy="670.2" rx="3.2" ry="1.8" style="stroke-width:1.4"/>
<ellipse class="p" cx="344.4" cy="673.5" rx="2.4" ry="1.5" />
<ellipse class="p" cx="360.9" cy="653.7" rx="2.6" ry="1.6" style="stroke-width:1.4"/>
<ellipse class="p" cx="365.3" cy="661.4" rx="2.3" ry="1.4" />
<path class="p" d="M341.7,640 L350.5,635.5 L353.8,637.3 L353.8,654 L344.5,658 L341.7,656.5 Z" />
<path class="pn" d="M341.7,640 L344.5,641.7 L353.8,637.3 M344.5,641.7 V658" />
<path class="th" d="M347,643.5 L351.5,641.5 L351.5,648.5 L347,650.5 Z" />
<path class="th" d="M347,643.5 L351.5,648.5" />
<path class="p" d="M383.8,703 L395.8,700.6 L425.8,694 L425.8,709.4 L393.4,727.4 Q390.5,728.5 389.4,726.5 L389.4,710.2 L383.8,706.2 Z" />
<path class="pn" d="M383.8,703 L389.4,706.6 L389.4,710.2 M389.4,706.6 L397.5,703" />
<path class="p" d="M397.4,679 L423.8,664.6 L430.2,667.8 L430.2,698.2 L402.6,712.2 L397.4,708.6 Z" />
<path class="pn" d="M397.4,679 L401.4,680.6 L430.2,667.8 M401.4,680.6 L402.6,712.2 M399.5,680 L400.5,710.8" />
<path class="p" d="M408.6,685.4 L427,675.4 L427.8,697.4 L409.4,703.8 Z" />
<path class="th" d="M411,687 L425.8,678.8 L426,695.5 L411.5,701.5 Z" />
<path class="th" d="M411,687 L414,690 L424.4,684.5 M414,690 L414.6,700" />
<path class="pn" d="M416.6,689.5 L424.6,685.3 L424.6,694.5 L416.6,698 Z" />
<path class="th" d="M418,691.5 L423.4,688.7 L423.4,694 L418,696.3 Z M418,691.5 L423.4,694" />
<path class="th" d="M425.8,700 V709 M395.5,714 V727" />
<path class="p" d="M363,744.5 L378.5,749.5 Q383,752 381,756.5 Q379.5,759.5 376,758.5 L366,755.5 Z" />
<ellipse class="p" cx="378.3" cy="754" rx="2.8" ry="4.1" transform="rotate(-20 378.3 754)" />
<ellipse class="p" cx="378.3" cy="754" rx="1.5" ry="2.4" transform="rotate(-20 378.3 754)" />
<path class="p" d="M346.7,749.5 Q346.5,762 355,764.7 Q362,766 366.5,761 Q369,757 368.7,749.5 Z" />
<ellipse class="p" cx="357.7" cy="749.5" rx="11" ry="5.4" />
<ellipse class="pn" cx="357.9" cy="750.2" rx="8.2" ry="3.8" />
<ellipse class="p" cx="365.2" cy="751" rx="2.5" ry="3.2" transform="rotate(-20 365.2 751)" />
<path class="cl" d="M357.7,734 V749" />
<g style="opacity:0.62">
<path class="p" d="M358.5,799 Q353,795.5 353.5,800 L353.5,823 Q354,829 357.5,830 L357.5,836 Q360,838.5 363.5,836 L364,829.5 Q367.5,827.5 367.2,822 L367.2,799 Q366,793 360,794 Z" />
<path class="pn" d="M353.5,812 Q360,815 367.2,811 M357.5,829 Q361,830.5 364,829.5" />
<path class="p" d="M324.5,807 Q325,818 334,822.5 Q343,825 350,820 Q354,816 352.8,807 Z" />
<ellipse class="p" cx="338.6" cy="807.5" rx="14.2" ry="7.2" />
<ellipse class="pn" cx="338.6" cy="808" rx="11.5" ry="5.3" />
<path class="pn" d="M332,800 L332,812 M344,800 L344,812" />
<path class="p" d="M328.2,791 L328.2,794.5 A10.2,5 0 0 0 348.6,794.5 L348.6,791 Z" />
<ellipse class="p" cx="338.4" cy="791" rx="10.2" ry="5" />
<ellipse class="p" cx="338.4" cy="791.2" rx="3.2" ry="1.6" />
<path class="pn" d="M344,797 L350.5,802 L352.5,798" />
</g>
<path class="cl" d="M337.4,732 V806.8 L318.6,818.8 V835.6" />
<path class="p" d="M309.4,837.5 L309.4,842 A9.2,3.8 0 0 0 327.8,842 L327.8,837.5 Z" />
<path class="th" d="M312,839 V845.5 M318.6,840.5 V847 M325.2,839 V845.5" />
<path class="p" d="M308.4,833.2 L308.4,834.8 A10.2,4.8 0 0 0 328.8,834.8 L328.8,833.2 Z" />
<ellipse class="p" cx="318.6" cy="833.2" rx="10.2" ry="4.8" />
<ellipse class="p" cx="318.8" cy="833.5" rx="3.4" ry="1.8" />
<path class="cl" d="M318.6,828 V835" />
<path class="p" d="M245.1,884.3 L259.7,862.2 L261.7,863.2 L263.6,866.5 L285.1,854.4 L288.3,856.7 L288.3,874.6 L263.6,887.3 L263.3,895 Z" style="stroke-width:1.2"/>
<path class="pn" d="M249,884.8 L261.7,863.2 M264.4,870.3 L288.3,856.7 M263.6,866.5 L264.4,870.3" style="stroke-width:0.9"/>
<text x="0" y="0" transform="translate(262.8,886.5) skewY(-27.5)" style="font-family:'Liberation Sans',sans-serif;font-weight:bold;font-style:italic;font-size:17px;fill:#111" textLength="24.5" lengthAdjust="spacingAndGlyphs">FWD</text>
<path class="p" d="M686,309 L688,308 L688,319 L686,318.5 Z" />
<path class="p" d="M688,264 L688,314 A36.3,21 0 0 0 760.6,314 L760.6,264 Z" />
<ellipse class="p" cx="724.3" cy="264" rx="36.3" ry="21" />
<path class="pn" d="M689.5,319.5 A34.8,18.6 0 0 0 759,319.5" />
<path class="th" d="M691,327 Q700,333 724,334" />
<ellipse class="p" cx="724.3" cy="264.6" rx="34" ry="18.6" />
<ellipse class="pn" cx="724.3" cy="263.5" rx="30.5" ry="15.5" style="stroke-width:0.8"/>
<path class="pn" d="M700,257 L700,280.5 M703.6,256.5 L703.6,281.5 M709.6,251 L709.6,282.8 M713.2,250.5 L713.2,283 M726.4,249 L726.4,283 M730,249 L730,283 M734.8,249.5 L734.8,282.5 M737.2,250 L737.2,282.2 M746.8,256 L746.8,279.6 M751.6,258.5 L751.6,278" style="stroke-width:1.0"/>
<path class="th" d="M697,262 Q700,256 706,254 M743,253 Q749,255 752.5,260" />
<path class="cl" d="M723.2,232 V268" />
<path class="p" d="M718,442 L718,445 Q723.6,448.5 729.2,445 L729.2,442 Z" />
<path class="p" d="M708.8,426 L708.8,436.3 A15.2,7 0 0 0 739.2,436.3 L739.2,426 Z" />
<ellipse class="p" cx="724" cy="426" rx="15.2" ry="7" />
<path class="th" d="M708.93,427.91 V437.21 M709.96,429.68 V438.98 M711.94,431.26 V440.56 M714.75,432.55 V441.85 M718.18,433.47 V442.77 M722.02,433.94 V443.24 M725.98,433.94 V443.24 M729.82,433.47 V442.77 M733.25,432.55 V441.85 M736.06,431.26 V440.56 M738.04,429.68 V438.98 M739.07,427.91 V437.21" />
<path class="p" d="M699.5,411 L699.5,418 A24.5,11 0 0 0 748.5,418 L748.5,411 Z" />
<path class="th" d="M746.43,419.01 L748.38,419.1 M746.2,419.75 L748.13,419.9 M745.86,420.48 L747.76,420.69 M745.39,421.19 L747.25,421.47 M744.81,421.89 L746.62,422.22 M744.12,422.56 L745.87,422.96 M743.32,423.21 L745,423.67 M742.41,423.84 L744.01,424.34 M741.41,424.43 L742.92,424.99 M740.31,424.99 L741.73,425.59 M739.12,425.5 L740.44,426.16 M737.85,425.98 L739.06,426.68 M736.51,426.42 L737.6,427.15 M735.1,426.81 L736.06,427.57 M733.63,427.15 L734.46,427.95 M732.1,427.44 L732.81,428.26 M730.54,427.69 L731.1,428.53 M728.93,427.87 L729.36,428.73 M727.3,428.01 L727.59,428.88 M725.66,428.09 L725.8,428.97 M724,428.12 L724,429 M722.34,428.09 L722.2,428.97 M720.7,428.01 L720.41,428.88 M719.07,427.87 L718.64,428.73 M717.46,427.69 L716.9,428.53 M715.9,427.44 L715.19,428.26 M714.37,427.15 L713.54,427.95 M712.9,426.81 L711.94,427.57 M711.49,426.42 L710.4,427.15 M710.15,425.98 L708.94,426.68 M708.88,425.5 L707.56,426.16 M707.69,424.99 L706.27,425.59 M706.59,424.43 L705.08,424.99 M705.59,423.84 L703.99,424.34 M704.68,423.21 L703,423.67 M703.88,422.56 L702.13,422.96 M703.19,421.89 L701.38,422.22 M702.61,421.19 L700.75,421.47 M702.14,420.48 L700.24,420.69 M701.8,419.75 L699.87,419.9" />
<path class="p" d="M698.4,379 L698.4,413 A25.9,11 0 0 0 750.2,413 L750.2,379 Z" />
<path class="th" d="M698.79,394.61 V414.91 M701.87,395.75 V418.5 M707.65,396.68 V421.43 M715.44,397.29 V423.34 M724.3,397.5 V424 M733.16,397.29 V423.34 M740.95,396.68 V421.43 M746.73,395.75 V418.5 M749.81,394.61 V414.91" />
<path class="th" d="M709,394.5 Q724.3,398.5 740,394.5" />
<ellipse class="p" cx="724.1" cy="377" rx="25.7" ry="16.5" />
<path class="pn" d="M738.49,377 L748.77,377 M738.27,378.6 L748.4,379.75 M737.62,380.16 L747.28,382.42 M736.56,381.62 L745.47,384.92 M735.12,382.94 L743,387.18 M733.35,384.08 L739.96,389.13 M731.3,385 L736.44,390.72 M729.02,385.68 L732.54,391.88 M726.6,386.1 L728.38,392.6 M724.1,386.24 L724.1,392.84 M721.6,386.1 L719.82,392.6 M719.18,385.68 L715.66,391.88 M716.9,385 L711.76,390.72 M714.85,384.08 L708.24,389.13 M713.08,382.94 L705.2,387.18 M711.64,381.62 L702.73,384.92 M710.58,380.16 L700.92,382.42 M709.93,378.6 L699.8,379.75 M709.71,377 L699.43,377 M709.93,375.4 L699.8,374.25 M710.58,373.84 L700.92,371.58 M711.64,372.38 L702.73,369.08 M713.08,371.06 L705.2,366.82 M714.85,369.92 L708.24,364.87 M716.9,369 L711.76,363.28 M719.18,368.32 L715.66,362.12 M721.6,367.9 L719.82,361.4 M724.1,367.76 L724.1,361.16 M726.6,367.9 L728.38,361.4 M729.02,368.32 L732.54,362.12 M731.3,369 L736.44,363.28 M733.35,369.92 L739.96,364.87 M735.12,371.06 L743,366.82 M736.56,372.38 L745.47,369.08 M737.62,373.84 L747.28,371.58 M738.27,375.4 L748.4,374.25" />
<ellipse class="pn" cx="724.1" cy="377" rx="14.2" ry="9" />
<ellipse class="p" cx="724.1" cy="376" rx="10.5" ry="6" />
<path class="p" d="M717,361 L717,378 A7.3,2.6 0 0 0 731.6,378 L731.6,361 Z" />
<ellipse class="p" cx="724.3" cy="361" rx="7.3" ry="2.6" />
<path class="th" d="M719.5,362 V380 M722,362.5 V380.5 M726,362.5 V380.5 M728.8,362 V380" />
<path class="p" d="M721.4,350 L721.4,360.5 A3,1.2 0 0 0 727.4,360.5 L727.4,350 Z" />
<path class="p" d="M721.4,350.5 Q721.6,346.6 724.4,346.6 Q727.2,346.6 727.4,350.5" />
<path class="pn" d="M684,481.5 L693.5,493.5" style="stroke:#2a2a2a;stroke-width:4.4;stroke-linecap:butt"/>
<path class="pn" d="M684,481.5 L693.5,493.5" style="stroke:#fff;stroke-width:2.4;stroke-linecap:butt"/>
<path class="pn" d="M701.5,506 L700.8,524" style="stroke:#2a2a2a;stroke-width:4.4;stroke-linecap:butt"/>
<path class="pn" d="M701.5,506 L700.8,524" style="stroke:#fff;stroke-width:2.4;stroke-linecap:butt"/>
<path class="pn" d="M704,506 Q712,514 719,520" style="stroke:#2a2a2a;stroke-width:4.4;stroke-linecap:butt"/>
<path class="pn" d="M704,506 Q712,514 719,520" style="stroke:#fff;stroke-width:2.4;stroke-linecap:butt"/>
<path class="p" d="M664.2,477 L678.2,472.2 L685.4,480.6 L671.8,485.4 Z" />
<path class="p" d="M664.2,477 L664.4,479.3 L671.8,487.7 L685.4,482.9 L685.4,480.6 M671.8,485.4 V487.7" />
<ellipse class="pn" cx="673.6" cy="477.6" rx="3" ry="2.1" style="stroke-width:0.8"/>
<path class="p" d="M690.2,495 L703,492.5 L706.2,494.5 L706.2,507.5 L694,510.2 L690.2,508 Z" />
<path class="pn" d="M690.2,495 L694,497.5 L706.2,494.5 M694,497.5 V510.2" />
<path class="th" d="M696,499 L704.5,497 L704.5,501 L696,503 Z" />
<path class="th" d="M696,501 L704.5,499" />
<path class="p" d="M695.8,528.2 L698.6,523.4 L703,525.4 L702.6,536.2 L698.6,538.2 L695.8,537 Z" />
<path class="pn" d="M695.8,528.2 L699.5,530 L703,525.4 M699.5,530 L698.6,538.2" />
<path class="p" d="M715.4,520.2 L719,518.2 L723.8,521.8 L724.2,530.6 L720.6,531.8 L715.8,528.2 Z" />
<path class="pn" d="M715.4,520.2 L720.3,523.5 L723.8,521.8 M720.3,523.5 L720.6,531.8" />
<path class="pn" d="M668,523.5 Q663.8,522.5 663.8,525 L663.8,528.6" style="stroke:#2a2a2a;stroke-width:2.6;stroke-linecap:round"/>
<path class="pn" d="M668,523.5 Q663.8,522.5 663.8,525 L663.8,528.6" style="stroke:#fff;stroke-width:0.9;stroke-linecap:round"/>
<path class="p" d="M667.3,519.8 Q667.3,526.3 672.5,526.3 Q677.7,526.3 677.7,519.8 Z" />
<path class="th" d="M668.1,522 Q672.5,524 676.9,522" />
<ellipse class="p" cx="672.5" cy="519.8" rx="5.2" ry="2.8" style="stroke-width:1.7"/>
<ellipse class="p" cx="672.5" cy="519.8" rx="2.6" ry="1.26" style="stroke-width:1.2"/>
<path class="pn" d="M755.5,517 Q750.5,516.5 748.8,512.5 Q747.8,509.5 746.6,511.5 L747.2,514" style="stroke:#2a2a2a;stroke-width:2.6;stroke-linecap:round"/>
<path class="pn" d="M755.5,517 Q750.5,516.5 748.8,512.5 Q747.8,509.5 746.6,511.5 L747.2,514" style="stroke:#fff;stroke-width:0.9;stroke-linecap:round"/>
<path class="p" d="M754.8,514.6 Q754.8,521.1 760,521.1 Q765.2,521.1 765.2,514.6 Z" />
<path class="th" d="M755.6,516.8 Q760,518.8 764.4,516.8" />
<ellipse class="p" cx="760" cy="514.6" rx="5.2" ry="2.8" style="stroke-width:1.7"/>
<ellipse class="p" cx="760" cy="514.6" rx="2.6" ry="1.26" style="stroke-width:1.2"/>
<path class="pn" d="M763.6,567.5 L758.5,566.5 L758,571.2 L762.6,572" style="stroke:#2a2a2a;stroke-width:2.6;stroke-linecap:round"/>
<path class="pn" d="M763.6,567.5 L758.5,566.5 L758,571.2 L762.6,572" style="stroke:#fff;stroke-width:0.9;stroke-linecap:round"/>
<path class="p" d="M762.6,565.4 Q762.6,571.9 768.4,571.9 Q774.2,571.9 774.2,565.4 Z" />
<path class="th" d="M763.4,567.6 Q768.4,569.6 773.4,567.6" />
<ellipse class="p" cx="768.4" cy="565.4" rx="5.8" ry="3.1" style="stroke-width:1.7"/>
<ellipse class="p" cx="768.4" cy="565.4" rx="2.9" ry="1.4" style="stroke-width:1.2"/>
<path class="pn" d="M669,580 L667.6,576 L668.4,574.6" style="stroke:#2a2a2a;stroke-width:2.6;stroke-linecap:round"/>
<path class="pn" d="M669,580 L667.6,576 L668.4,574.6" style="stroke:#fff;stroke-width:0.9;stroke-linecap:round"/>
<path class="p" d="M668.3,578.2 Q668.3,584.7 673.8,584.7 Q679.3,584.7 679.3,578.2 Z" />
<path class="th" d="M669.1,580.4 Q673.8,582.4 678.5,580.4" />
<ellipse class="p" cx="673.8" cy="578.2" rx="5.5" ry="3" style="stroke-width:1.7"/>
<ellipse class="p" cx="673.8" cy="578.2" rx="2.75" ry="1.35" style="stroke-width:1.2"/>
<path class="p" d="M691.8,575.8 L701.8,563.4 L712,560 L714.2,559 Q716,557.6 718,557.8 L725,557.8 Q727,560 727.4,563.4 L730.6,564.2 L736.2,561 L746.6,565 L755.4,572.2 L752.2,579.4 L744.2,591.4 L733.8,590.6 L731.4,596.2 L722.6,597 L720.2,591.4 L707.4,592.2 L697,583.4 L692.2,578.6 Z" transform="translate(0,1.8)"/>
<path class="p" d="M691.8,575.8 L701.8,563.4 L712,560 L714.2,559 Q716,557.6 718,557.8 L725,557.8 Q727,560 727.4,563.4 L730.6,564.2 L736.2,561 L746.6,565 L755.4,572.2 L752.2,579.4 L744.2,591.4 L733.8,590.6 L731.4,596.2 L722.6,597 L720.2,591.4 L707.4,592.2 L697,583.4 L692.2,578.6 Z"/>
<ellipse class="p" cx="724.6" cy="575.4" rx="7" ry="4" style="stroke-width:1.3"/>
<ellipse class="p" cx="720.5" cy="560.8" rx="2.5" ry="1.6" style="stroke-width:1.4"/>
<ellipse class="p" cx="726.5" cy="592" rx="2.5" ry="1.6" style="stroke-width:1.4"/>
<ellipse class="p" cx="735.5" cy="582.5" rx="2.2" ry="1.4" />
<path class="p" d="M703,569 L703,583.5 L709,587.5 L712.5,585 L712.5,571" />
<path class="th" d="M704.5,578 L709.5,580.5 M704.5,580 L709.5,582.5 M704.5,582 L709.5,584.5 M706,574 V585" />
<path class="p" d="M701.8,560.5 L705.5,557.8 L713.5,561 L709.8,563.8 Z" />
<path class="p" d="M701.8,560.5 L709.8,563.8 L709.8,573 L701.8,569.5 Z" />
<path class="p" d="M709.8,563.8 L713.5,561 L713.6,570.5 L709.8,573 Z" />
<path class="p" d="M736.5,569 L736.5,585 L742,589 L745.5,586 L745.5,570" />
<path class="th" d="M738,578 L743,580.5 M738,580 L743,582.5 M738,582 L743,584.5 M741,574 V586" />
<path class="p" d="M735.4,560 L740,556.2 L746.6,559 L742,563 Z" />
<path class="p" d="M735.4,560 L742,563 L742,573 L735.4,570 Z" />
<path class="p" d="M742,563 L746.6,559 L746.6,569.5 L742,573 Z" />
<path class="th" d="M697.5,568 L701.8,566 M748,567 L753,571" />
<path class="ln" d="M671.5,530.7 V533.4 L708.4,554 V556.8" />
<path class="ln" d="M760,527 V531 L736,545 V553" />
<path class="ln" d="M675.5,588 V592.4 L711,572" />
<path class="ln" d="M768.8,575.5 V585.5 L742,570.5" />
<path class="p" d="M725.9,616.4 L723.2,636.6 L744.4,621.2 A34.65,21.2 0 1 1 725.9,616.4 Z" transform="translate(0,1.8)"/>
<path class="p" d="M725.9,616.4 L723.2,636.6 L744.4,621.2 A34.65,21.2 0 1 1 725.9,616.4 Z"/>
<path class="p" d="M694,629.5 Q697,628 701.5,629.5 Q700,636 702.5,642 Q698,643.5 693,642 Q691,636 694,629.5 Z" style="stroke-width:1.3"/>
<path class="p" d="M743,628.5 Q747,627 751.5,628.5 Q753.5,635 752,642 Q747.5,643.5 743.5,642 Q745,636 743,628.5 Z" style="stroke-width:1.3"/>
<ellipse class="p" cx="707.5" cy="623.9" rx="4.8" ry="2.8" style="stroke-width:1.2"/>
<ellipse class="p" cx="717.3" cy="620.4" rx="2.5" ry="1.3" style="stroke-width:1.3"/>
<ellipse class="p" cx="703.4" cy="647.5" rx="5.2" ry="2.6" style="stroke-width:1.2"/>
<ellipse class="p" cx="739.2" cy="647.5" rx="5.2" ry="2.7" style="stroke-width:1.2"/>
<ellipse class="p" cx="724" cy="652.2" rx="2.6" ry="1.4" style="stroke-width:1.5"/>
<ellipse class="p" cx="717" cy="641.5" rx="2.2" ry="1.2" style="stroke-width:1.5"/>
<path class="pn" d="M717,640.5 Q716,637 719.5,635.5 Q722.5,634.5 723.5,637 Q722,639.5 719.5,638.5" />
<path class="p" d="M714.15,667.8 L714.15,669.5 A5.65,2.8 0 0 0 725.45,669.5 L725.45,667.8 Z" />
<ellipse class="p" cx="719.8" cy="667.8" rx="5.65" ry="2.8" />
<path class="p" d="M712,679.5 L712,684 A7.9,4.3 0 0 0 727.8,684 L727.8,679.5 Z" />
<ellipse class="p" cx="719.9" cy="679.5" rx="7.9" ry="4.3" />
<ellipse class="pn" cx="719.9" cy="679.6" rx="5.8" ry="3" />
<ellipse class="p" cx="719.9" cy="680" rx="3.8" ry="1.9" />
<path class="p" d="M669.4,725 L676,721 L684,723 L684,748.5 L671,744 L669.4,740 Z" />
<path class="pn" d="M669.4,725 Q670,728.5 673.5,729.5 L684,731 M673.5,729.5 L672.8,744.5" />
<ellipse class="p" cx="677.1" cy="725.2" rx="2.8" ry="1.6" />
<path class="p" d="M753,730 L762,726 L768.8,729.5 L769,746 L756,752.7 L753,752 Z" />
<path class="pn" d="M756,737 L768.8,733 M756,737 L756,752.7 M753,733 L756,737" />
<ellipse class="p" cx="761.8" cy="731.4" rx="2.8" ry="1.6" />
<path class="p" d="M684,748 L684,764 L688,766.5 L703,773 L703.5,779 Q708,781.5 715.5,779.5 L736.5,768.5 L736.5,760 Z" />
<path class="pn" d="M688,752 L688,766.5 M697,756 L697,770 M703,762 L703,773 M715.5,766 L715.5,779.5" />
<ellipse class="p" cx="709.7" cy="771.2" rx="2.8" ry="3.9" style="stroke-width:1.3"/>
<ellipse class="p" cx="694" cy="763" rx="1.6" ry="2.3" />
<path class="p" d="M682,723 L682,748 A36,20.5 0 0 0 753.6,748.5 L753.6,723 Z" />
<path class="pn" d="M682,728 A36.4,21 0 0 0 755.2,728" />
<ellipse class="p" cx="718.9" cy="716.7" rx="37.4" ry="21.7" />
<ellipse class="p" cx="718.9" cy="716.9" rx="33.5" ry="18.4" />
<path class="pn" d="M697.5,728.5 A23,9.5 0 0 1 744,728.5" />
<path class="pn" d="M705,733 A15,5 0 0 1 733,733" />
<ellipse class="p" cx="714.5" cy="726.9" rx="1.8" ry="1" />
<path class="p" d="M707.4,695.4 L707.4,703.5 Q708.5,707.6 713.5,707.6 Q719.5,707.6 719.5,703 L719.5,695.1" />
<path class="pn" d="M707.4,695.4 Q713.5,693.8 719.5,695.1" style="stroke:#fff;stroke-width:1.6"/>
<path class="cl" d="M725,756 V765" />
<path class="p" d="M761.6,762 L761.6,864 L764.8,864 L764.8,762 Q763.2,759.5 761.6,762 Z" />
<path class="th" d="M761.6,763.5 H764.8 M761.6,765.5 H764.8 M761.6,767.5 H764.8 M761.6,769.5 H764.8 M761.6,771.5 H764.8 M761.6,773.5 H764.8" />
<path class="p" d="M758.2,864.5 Q763.2,861.5 768.2,864.5 L768.2,866.5 L766.5,870.5 Q763.2,872 760,870.5 L758.2,866.5 Z" />
<path class="th" d="M761,866.5 V870.8 M765.5,866.5 V870.8 M758.2,866.5 Q763.2,868.5 768.2,866.5" />
<path class="cl" d="M763.2,752 V760" />
<path class="cl" d="M725,766 V802" />
<path class="p" d="M720.6,813 V818.6 Q725.3,821.6 730,818.6 V813 Z" />
<path class="th" d="M723.6,815 V820.3 M727.2,815 V820.3" />
<path class="p" d="M718.7,811.6 L718.7,813.2 A6.6,2.5 0 0 0 731.9,813.2 L731.9,811.6 Z" />
<ellipse class="p" cx="725.3" cy="811.6" rx="6.6" ry="2.5" />
<path class="p" d="M723.3,811 V802.6 Q725.3,800.8 727.3,802.6 V811" />
<path class="th" d="M723.3,804 H727.3 M723.3,806 H727.3 M723.3,808 H727.3" />
<ellipse class="p" cx="676.8" cy="789.2" rx="7" ry="8.8" transform="rotate(-25 676.8 789.2)" />
<ellipse class="pn" cx="677.4" cy="789.3" rx="5.4" ry="7.1" transform="rotate(-25 677.4 789.3)" />
<ellipse class="p" cx="676.5" cy="790" rx="2.2" ry="3" transform="rotate(-25 676.5 790)" />
<g transform="translate(259.5,322) rotate(-28)">
<path class="p" d="M6.5,-3.8 L44,-3.8 A1.8,3.8 0 0 1 44,3.8 L6.5,3.8 Z" />
<path class="th" d="M27.28,-3.8 A1.5,3.8 0 0 1 27.28,3.8 M29.88,-3.8 A1.5,3.8 0 0 1 29.88,3.8 M32.48,-3.8 A1.5,3.8 0 0 1 32.48,3.8 M35.08,-3.8 A1.5,3.8 0 0 1 35.08,3.8 M37.68,-3.8 A1.5,3.8 0 0 1 37.68,3.8 M40.28,-3.8 A1.5,3.8 0 0 1 40.28,3.8 M42.88,-3.8 A1.5,3.8 0 0 1 42.88,3.8" />
<path class="p" d="M-0,-8.2 L6.5,-8.2 L9.62,-4.1 L9.62,4.1 L6.5,8.2 L0,8.2 Z" />
<path class="pn" d="M3.12,-4.1 L9.62,-4.1 M3.12,4.1 L9.62,4.1" />
<path class="p" d="M3.12,4.1 L0,8.2 L-3.12,4.1 L-3.12,-4.1 L-0,-8.2 L3.12,-4.1 Z" />
</g>
<g transform="translate(624.2,818.3) rotate(-28.5)">
<path class="p" d="M7,-3.3 L47.5,-3.3 A1.8,3.3 0 0 1 47.5,3.3 L7,3.3 Z" />
<path class="th" d="M29.45,-3.3 A1.5,3.3 0 0 1 29.45,3.3 M32.05,-3.3 A1.5,3.3 0 0 1 32.05,3.3 M34.65,-3.3 A1.5,3.3 0 0 1 34.65,3.3 M37.25,-3.3 A1.5,3.3 0 0 1 37.25,3.3 M39.85,-3.3 A1.5,3.3 0 0 1 39.85,3.3 M42.45,-3.3 A1.5,3.3 0 0 1 42.45,3.3 M45.05,-3.3 A1.5,3.3 0 0 1 45.05,3.3" />
<path class="p" d="M-0,-8.8 L7,-8.8 L10.12,-4.4 L10.12,4.4 L7,8.8 L0,8.8 Z" />
<path class="pn" d="M3.12,-4.4 L10.12,-4.4 M3.12,4.4 L10.12,4.4" />
<path class="p" d="M3.12,4.4 L0,8.8 L-3.12,4.4 L-3.12,-4.4 L-0,-8.8 L3.12,-4.4 Z" />
</g>
<ellipse class="p" cx="311" cy="292.8" rx="6.4" ry="8.6" transform="rotate(20 311 292.8)" />
<ellipse class="p" cx="310.3" cy="293.2" rx="5" ry="7.2" transform="rotate(20 310.3 293.2)" />
<ellipse class="p" cx="311" cy="293.4" rx="2" ry="3" transform="rotate(20 311 293.4)" />
<text class="t" transform="translate(787,93) scale(1.3,1)">1</text>
<rect x="783.2" y="95.95" width="3.3" height="2.3" fill="#fff"/>
<rect x="788.1" y="95.95" width="3.1" height="2.3" fill="#fff"/>
<text class="t" transform="translate(795,379) scale(1.3,1)">2</text>
<text class="t" transform="translate(795,284) scale(1.3,1)">3</text>
<text class="t" transform="translate(657.5,419.5) scale(1.3,1)">4</text>
<text class="t" transform="translate(644,506) scale(1.3,1)">5</text>
<text class="t" transform="translate(790,503) scale(1.3,1)">6</text>
<text class="t" transform="translate(644,531) scale(1.3,1)">6</text>
<text class="t" transform="translate(790,549) scale(1.3,1)">6</text>
<text class="t" transform="translate(644,569) scale(1.3,1)">6</text>
<text class="t" transform="translate(797,711) scale(1.3,1)">7</text>
<text class="t" transform="translate(408,114) scale(1.3,1)">8</text>
<text class="t" transform="translate(558,117) scale(1.3,1)">9</text>
<text class="t" transform="translate(591,609) scale(1.3,1)">10</text>
<rect x="582.61" y="611.95" width="3.3" height="2.3" fill="#fff"/>
<rect x="587.51" y="611.95" width="3.1" height="2.3" fill="#fff"/>
<text class="t" transform="translate(549,404) scale(1.3,1)">11</text>
<rect x="540.61" y="406.95" width="3.3" height="2.3" fill="#fff"/>
<rect x="545.51" y="406.95" width="3.1" height="2.3" fill="#fff"/>
<rect x="549.79" y="406.95" width="3.3" height="2.3" fill="#fff"/>
<rect x="554.69" y="406.95" width="3.1" height="2.3" fill="#fff"/>
<text class="t" transform="translate(549.5,743.5) scale(1.3,1)">12</text>
<rect x="541.11" y="746.45" width="3.3" height="2.3" fill="#fff"/>
<rect x="546.01" y="746.45" width="3.1" height="2.3" fill="#fff"/>
<text class="t" transform="translate(549.5,559.4) scale(1.3,1)">13</text>
<rect x="541.11" y="562.35" width="3.3" height="2.3" fill="#fff"/>
<rect x="546.01" y="562.35" width="3.1" height="2.3" fill="#fff"/>
<text class="t" transform="translate(517,578.6) scale(1.3,1)">14</text>
<rect x="508.61" y="581.55" width="3.3" height="2.3" fill="#fff"/>
<rect x="513.51" y="581.55" width="3.1" height="2.3" fill="#fff"/>
<text class="t" transform="translate(517,609) scale(1.3,1)">15</text>
<rect x="508.61" y="611.95" width="3.3" height="2.3" fill="#fff"/>
<rect x="513.51" y="611.95" width="3.1" height="2.3" fill="#fff"/>
<text class="t" transform="translate(549.5,658) scale(1.3,1)">16</text>
<rect x="541.11" y="660.95" width="3.3" height="2.3" fill="#fff"/>
<rect x="546.01" y="660.95" width="3.1" height="2.3" fill="#fff"/>
<text class="t" transform="translate(548.6,840) scale(1.3,1)">17</text>
<rect x="540.21" y="842.95" width="3.3" height="2.3" fill="#fff"/>
<rect x="545.11" y="842.95" width="3.1" height="2.3" fill="#fff"/>
<text class="t" transform="translate(548.7,802) scale(1.3,1)">18</text>
<rect x="540.31" y="804.95" width="3.3" height="2.3" fill="#fff"/>
<rect x="545.21" y="804.95" width="3.1" height="2.3" fill="#fff"/>
<text class="t" transform="translate(549,480.5) scale(1.3,1)">19</text>
<rect x="540.61" y="483.45" width="3.3" height="2.3" fill="#fff"/>
<rect x="545.51" y="483.45" width="3.1" height="2.3" fill="#fff"/>
<text class="t" transform="translate(549.5,699) scale(1.3,1)">19</text>
<rect x="541.11" y="701.95" width="3.3" height="2.3" fill="#fff"/>
<rect x="546.01" y="701.95" width="3.1" height="2.3" fill="#fff"/>
<text class="t" transform="translate(782,653) scale(1.3,1)">19</text>
<rect x="773.61" y="655.95" width="3.3" height="2.3" fill="#fff"/>
<rect x="778.51" y="655.95" width="3.1" height="2.3" fill="#fff"/>
<text class="t" transform="translate(809,653) scale(1.3,1)">10</text>
<rect x="800.61" y="655.95" width="3.3" height="2.3" fill="#fff"/>
<rect x="805.51" y="655.95" width="3.1" height="2.3" fill="#fff"/>
<text class="t" transform="translate(609,214) scale(1.3,1)">20</text>
<text class="t" transform="translate(412.4,573.5) scale(1.3,1)">21</text>
<rect x="413.19" y="576.45" width="3.3" height="2.3" fill="#fff"/>
<rect x="418.09" y="576.45" width="3.1" height="2.3" fill="#fff"/>
<text class="t" transform="translate(413,754) scale(1.3,1)">22</text>
<text class="t" transform="translate(425,613) scale(1.3,1)">23</text>
<text class="t" transform="translate(799,805) scale(1.3,1)">24</text>
<text class="t" transform="translate(370,142) scale(1.3,1)">25</text>
<text class="t" transform="translate(735.6,853) scale(1.3,1)">26</text>
<text class="t" transform="translate(250,267.5) scale(1.3,1)">27</text>
<text class="t" transform="translate(649,856.4) scale(1.3,1)">27</text>
<text class="t" transform="translate(287,249) scale(1.3,1)">28</text>
<text class="t" transform="translate(682.8,843) scale(1.3,1)">28</text>
<text class="t" transform="translate(276,833) scale(1.3,1)">29</text>
<text class="t" x="270.5" y="911" textLength="97" lengthAdjust="spacingAndGlyphs" style="font-size:12.7px">6AL8100-L200</text>
</g>
</svg>
</body></html>
